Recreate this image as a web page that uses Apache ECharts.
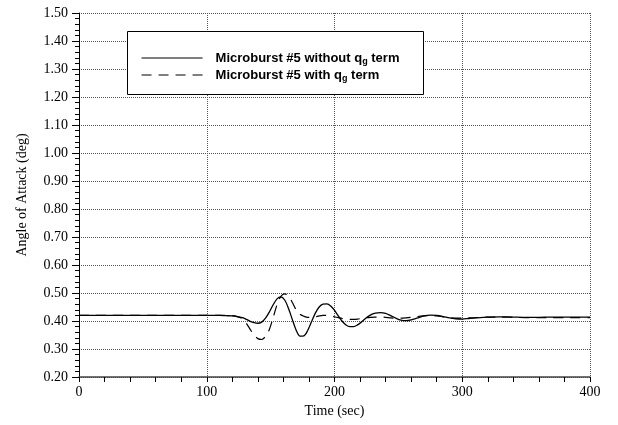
<!DOCTYPE html>
<html>
<head>
<meta charset="utf-8">
<script src="https://cdn.jsdelivr.net/npm/echarts@6/dist/echarts.min.js"></script>
<style>html,body{margin:0;padding:0;background:#fff;}#c{width:618px;height:425px;}</style>
</head>
<body>
<div id="c"></div>
<script>
// Time (sec)
var times = [0, 20, 40, 60, 80, 100, 110, 115, 120, 125, 128, 131, 134, 137, 140, 143, 146, 149, 152, 155, 158, 161, 164, 167, 170, 173, 176, 179, 182, 185, 188, 191, 194, 197, 200, 203, 206, 209, 212, 215, 218, 221, 224, 228, 232, 236, 240, 244, 248, 252, 256, 260, 265, 270, 275, 280, 285, 290, 295, 300, 305, 310, 320, 330, 340, 350, 360, 370, 380, 390, 400];
// Angle of attack (deg), Microburst #5 without q_g term
var withoutQg = [0.420, 0.420, 0.420, 0.420, 0.420, 0.420, 0.420, 0.419, 0.418, 0.415, 0.412, 0.406, 0.399, 0.394, 0.392, 0.396, 0.410, 0.432, 0.458, 0.479, 0.486, 0.475, 0.445, 0.405, 0.367, 0.346, 0.347, 0.366, 0.397, 0.428, 0.450, 0.460, 0.461, 0.454, 0.438, 0.418, 0.399, 0.386, 0.380, 0.380, 0.386, 0.396, 0.408, 0.421, 0.428, 0.430, 0.427, 0.419, 0.410, 0.403, 0.401, 0.404, 0.411, 0.418, 0.421, 0.420, 0.416, 0.411, 0.408, 0.407, 0.409, 0.411, 0.414, 0.415, 0.414, 0.413, 0.413, 0.414, 0.414, 0.414, 0.414];
// Angle of attack (deg), Microburst #5 with q_g term
var withQg = [0.420, 0.420, 0.420, 0.420, 0.420, 0.420, 0.420, 0.420, 0.419, 0.414, 0.408, 0.392, 0.370, 0.350, 0.337, 0.334, 0.345, 0.370, 0.412, 0.458, 0.488, 0.497, 0.490, 0.466, 0.440, 0.424, 0.417, 0.413, 0.413, 0.415, 0.418, 0.420, 0.420, 0.418, 0.415, 0.412, 0.409, 0.407, 0.406, 0.406, 0.407, 0.409, 0.411, 0.413, 0.414, 0.414, 0.413, 0.411, 0.410, 0.410, 0.411, 0.413, 0.416, 0.418, 0.419, 0.418, 0.415, 0.412, 0.410, 0.410, 0.411, 0.412, 0.414, 0.414, 0.413, 0.412, 0.412, 0.412, 0.412, 0.412, 0.412];
var seriesNames = ['Microburst #5 without q_g term', 'Microburst #5 with q_g term'];
var xTicks = [0, 100, 200, 300, 400];
var yRange = [0.2, 1.5];

function pairs(xs, ys) { return xs.map(function (x, i) { return [x, ys[i]]; }); }

var chart = echarts.init(document.getElementById('c'), null, {renderer: 'canvas'});
var serif = '"Liberation Serif", "Times New Roman", serif';
var sans = '"Liberation Sans", Arial, sans-serif';
chart.setOption({
  animation: false,
  backgroundColor: '#fff',
  grid: {left: 79, width: 511, top: 13, height: 364},
  xAxis: {
    type: 'value', min: xTicks[0], max: xTicks[xTicks.length - 1], interval: 100,
    name: 'Time (sec)', nameLocation: 'middle', nameGap: 22,
    nameTextStyle: {fontFamily: serif, fontSize: 14, color: '#000'},
    axisLine: {show: true, onZero: false, lineStyle: {color: '#444', width: 1.5}},
    axisTick: {show: true, length: 5, lineStyle: {color: '#000'}},
    minorTick: {show: true, splitNumber: 5, length: 5, lineStyle: {color: '#000'}},
    axisLabel: {fontFamily: serif, fontSize: 14, color: '#000', margin: 8},
    splitLine: {show: true, lineStyle: {color: '#555', type: 'dotted', width: 1}}
  },
  yAxis: {
    type: 'value', min: yRange[0], max: yRange[1], interval: 0.1,
    name: 'Angle of Attack (deg)', nameLocation: 'middle', nameGap: 50, nameRotate: 90,
    nameTextStyle: {fontFamily: serif, fontSize: 14, color: '#000'},
    axisLine: {show: true, onZero: false, lineStyle: {color: '#000', width: 1}},
    axisTick: {show: true, length: 7, lineStyle: {color: '#000'}},
    minorTick: {show: true, splitNumber: 5, length: 4, lineStyle: {color: '#000'}},
    axisLabel: {fontFamily: serif, fontSize: 14, color: '#000', margin: 11,
      formatter: function (v) { return v.toFixed(2); }},
    splitLine: {show: true, lineStyle: {color: '#555', type: 'dotted', width: 1}}
  },
  graphic: [{
    type: 'rect', z: 10, left: 127, top: 31,
    shape: {width: 296, height: 63},
    style: {fill: '#fff', stroke: '#000', lineWidth: 1}
  }],
  legend: {
    z: 12, orient: 'vertical', left: 141, top: 50, padding: 0,
    itemWidth: 61, itemHeight: 12, itemGap: 1,
    data: seriesNames,
    itemStyle: {opacity: 0},
    lineStyle: {width: 1.1},
    formatter: function (name) {
      var parts = name.split('q_g');
      return '{t|' + parts[0] + 'q}{s|g}{t|' + parts[1] + '}';
    },
    textStyle: {
      color: '#000', padding: [0, 0, 0, 8],
      rich: {
        t: {fontFamily: sans, fontWeight: 'bold', fontSize: 13, color: '#000', lineHeight: 14},
        s: {fontFamily: sans, fontWeight: 'bold', fontSize: 9, color: '#000', lineHeight: 14, padding: [7, 0, 0, 0]}
      }
    }
  },
  series: [{
    name: seriesNames[0], type: 'line', data: pairs(times, withoutQg),
    showSymbol: false, symbol: 'none', smooth: 0.3,
    lineStyle: {color: '#000', width: 1.3, type: 'solid'}, itemStyle: {color: '#000'}
  }, {
    name: seriesNames[1], type: 'line', data: pairs(times, withQg),
    showSymbol: false, symbol: 'none', smooth: 0.3,
    lineStyle: {color: '#000', width: 1.2, type: [10, 7]}, itemStyle: {color: '#000'}
  }]
});
</script>
</body>
</html>
